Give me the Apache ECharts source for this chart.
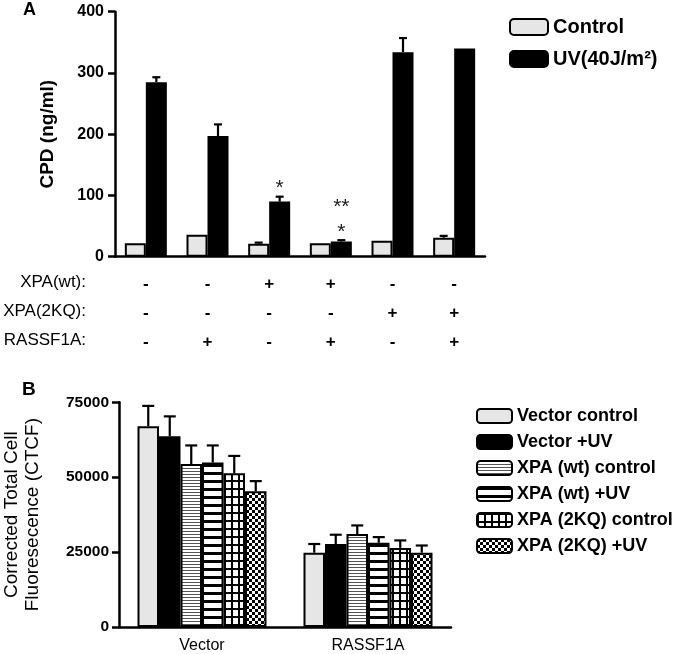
<!DOCTYPE html>
<html>
<head>
<meta charset="utf-8">
<script src="https://cdn.jsdelivr.net/npm/echarts@6/dist/echarts.min.js"></script>
<style>
html,body{margin:0;padding:0;background:#fff;}
#chart{width:680px;height:654px;}
</style>
</head>
<body>
<div id="chart"></div>
<script>
// ---------- Panel A data ----------
const categoriesA = ['g1', 'g2', 'g3', 'g4', 'g5', 'g6'];
const seriesNamesA = ['Control', 'UV(40J/m²)'];
const controlA = [22, 36, 21, 22, 26, 31];
const controlAErr = [0, 0, 2, 0, 0, 3];
const uvA = [285, 197, 90, 25, 334, 340];
const uvAErr = [8, 19, 8, 2, 23, 0];
const rowLabels = ['XPA(wt):', 'XPA(2KQ):', 'RASSF1A:'];
const xpaWt = ['-', '-', '+', '+', '-', '-'];
const xpa2KQ = ['-', '-', '-', '-', '+', '+'];
const rassf1a = ['-', '+', '-', '+', '-', '+'];
const yTicksA = [0, 100, 200, 300, 400];
// significance marks: [category index, text, stack level]
const marksA = [[2, '*', 0], [3, '*', 0], [3, '**', 1]];

// ---------- Panel B data ----------
const categoriesB = ['Vector', 'RASSF1A'];
const seriesNamesB = ['Vector control', 'Vector +UV', 'XPA (wt) control', 'XPA (wt) +UV', 'XPA (2KQ) control', 'XPA (2KQ) +UV'];
const vectorControl = [67000, 24800];
const vectorControlErr = [6800, 2900];
const vectorUV = [63700, 27700];
const vectorUVErr = [6600, 3100];
const wtControl = [54400, 31000];
const wtControlErr = [6200, 2900];
const wtUV = [54900, 28100];
const wtUVErr = [5700, 1900];
const kqControl = [51300, 26400];
const kqControlErr = [5800, 2500];
const kqUV = [45300, 24800];
const kqUVErr = [3400, 2400];
const yTicksB = [0, 25000, 50000, 75000];

// ---------- patterns ----------
function tile(w, h, draw) {
  const c = document.createElement('canvas');
  c.width = w; c.height = h;
  const ctx = c.getContext('2d');
  ctx.fillStyle = '#fff'; ctx.fillRect(0, 0, w, h);
  draw(ctx);
  return { image: c, repeat: 'repeat' };
}
const FONT = 'Liberation Sans, Arial, sans-serif';
const LIGHT = '#e6e6e6';
const fillsB = [
  LIGHT,
  '#000',
  tile(1, 3, ctx => { ctx.fillStyle = '#555'; ctx.fillRect(0, 0, 1, 1); }),
  tile(1, 8, ctx => { ctx.fillStyle = '#000'; ctx.fillRect(0, 0, 1, 3); }),
  tile(7, 8, ctx => { ctx.fillStyle = '#000'; ctx.fillRect(0, 0, 7, 2); ctx.fillRect(0, 0, 2, 8); }),
  tile(6, 6, ctx => { ctx.fillStyle = '#000'; ctx.fillRect(0, 0, 3, 3); ctx.fillRect(3, 3, 3, 3); })
];
const valsB = [vectorControl, vectorUV, wtControl, wtUV, kqControl, kqUV];
const errsB = [vectorControlErr, vectorUVErr, wtControlErr, wtUVErr, kqControlErr, kqUVErr];

const BW_A = 21, BW_B = 21.5;

function errRenderer(nSeries, bw, capHalf) {
  return function (params, api) {
    const cat = api.value(0), s = api.value(1), v = api.value(2), e = api.value(3);
    if (!e) return null;
    const off = (s - (nSeries - 1) / 2) * bw;
    const p0 = api.coord([cat, v]);
    const p1 = api.coord([cat, v + e]);
    const x = p0[0] + off;
    const st = { stroke: '#000', lineWidth: 2.2 };
    return {
      type: 'group',
      children: [
        { type: 'line', shape: { x1: x, y1: p0[1], x2: x, y2: p1[1] }, style: st },
        { type: 'line', shape: { x1: x - capHalf, y1: p1[1], x2: x + capHalf, y2: p1[1] }, style: st }
      ]
    };
  };
}

const errDataA = [];
[controlA, uvA].forEach((vals, s) => {
  const errs = s === 0 ? controlAErr : uvAErr;
  vals.forEach((v, i) => errDataA.push([i, s, v, errs[i]]));
});
const errDataB = [];
valsB.forEach((vals, s) => vals.forEach((v, i) => errDataB.push([i, s, v, errsB[s][i]])));

const markData = marksA.map(m => [m[0], 1, uvA[m[0]] + uvAErr[m[0]], m[2], m[1]]);

const chart = echarts.init(document.getElementById('chart'), null, { renderer: 'canvas' });

const axisLine = { lineStyle: { color: '#000', width: 2.5 } };
const axisTick = { lineStyle: { color: '#000', width: 2.5 }, length: 7 };

const option = {
  backgroundColor: '#fff',
  animation: false,
  textStyle: { fontFamily: FONT, color: '#000' },
  grid: [
    { left: 115, top: 11.7, width: 370, height: 245 },
    { left: 111, top: 402.3, width: 340, height: 228 }
  ],
  legend: [
    {
      data: seriesNamesA, orient: 'vertical', left: 509, top: 17, padding: 0,
      itemWidth: 38, itemHeight: 16, itemGap: 12,
      textStyle: { fontFamily: FONT, fontSize: 20, fontWeight: 'bold', color: '#000' },
      selectedMode: false
    },
    {
      data: seriesNamesB, orient: 'vertical', left: 476, top: 407, padding: 0,
      itemWidth: 35, itemHeight: 14, itemGap: 8,
      textStyle: { fontFamily: FONT, fontSize: 18, fontWeight: 'bold', color: '#000' },
      selectedMode: false
    }
  ],
  xAxis: [
    {
      type: 'category', gridIndex: 0, data: categoriesA,
      axisLine, axisTick: Object.assign({ alignWithLabel: true }, axisTick),
      axisLabel: {
        margin: 13, lineHeight: 29, fontSize: 17, fontWeight: 'bold', color: '#000', fontFamily: FONT,
        formatter: (v, i) => [xpaWt[i], xpa2KQ[i], rassf1a[i]].join('\n')
      }
    },
    {
      type: 'category', gridIndex: 1, data: categoriesB,
      axisLine, axisTick: Object.assign({ alignWithLabel: true }, axisTick),
      axisLabel: { margin: 11, fontSize: 16, color: '#000', fontFamily: FONT }
    }
  ],
  yAxis: [
    {
      type: 'value', gridIndex: 0, min: 0, max: 400, interval: 100,
      axisLine: Object.assign({ show: true }, axisLine), axisTick: Object.assign({ show: true }, axisTick),
      splitLine: { show: false },
      axisLabel: { margin: 11, fontSize: 16, fontWeight: 'bold', color: '#000', fontFamily: FONT,
        formatter: v => String(v) },
      name: 'CPD (ng/ml)', nameLocation: 'middle', nameGap: 58, nameRotate: 90,
      nameTextStyle: { fontSize: 19, fontWeight: 'bold', color: '#000', fontFamily: FONT }
    },
    {
      type: 'value', gridIndex: 1, min: 0, max: 75000, interval: 25000,
      axisLine: Object.assign({ show: true }, axisLine), axisTick: Object.assign({ show: true }, axisTick),
      splitLine: { show: false },
      axisLabel: { margin: 10, fontSize: 15.5, fontWeight: 'bold', color: '#000', fontFamily: FONT,
        formatter: v => String(v) },
      name: 'Corrected Total Cell\nFluoresecence (CTCF)', nameLocation: 'middle', nameGap: 76, nameRotate: 90,
      nameTextStyle: { fontSize: 19, lineHeight: 21, color: '#000', fontFamily: FONT }
    }
  ],
  graphic: [
    { type: 'text', left: 23, top: 1, style: { text: 'A', font: 'bold 18px ' + FONT, fill: '#000' } },
    { type: 'text', left: 22, top: 380, style: { text: 'B', font: 'bold 19px ' + FONT, fill: '#000' } }
  ].concat(rowLabels.map((t, i) => ({
    type: 'text', right: 680 - 86, top: 274 + i * 29,
    style: { text: t, font: '17px ' + FONT, fill: '#000', textAlign: 'right' }
  }))),
  series: [
    {
      name: seriesNamesA[0], type: 'bar', xAxisIndex: 0, yAxisIndex: 0, data: controlA,
      barWidth: BW_A, barGap: '0%',
      itemStyle: { color: LIGHT, borderColor: '#000', borderWidth: 2 }
    },
    {
      name: seriesNamesA[1], type: 'bar', xAxisIndex: 0, yAxisIndex: 0, data: uvA,
      barWidth: BW_A, barGap: '0%',
      itemStyle: { color: '#000', borderColor: '#000', borderWidth: 2 }
    },
    {
      type: 'custom', xAxisIndex: 0, yAxisIndex: 0, data: errDataA, z: 5,
      renderItem: errRenderer(2, BW_A, 4), clip: false, silent: true
    },
    {
      type: 'custom', xAxisIndex: 0, yAxisIndex: 0, data: markData, z: 5, clip: false, silent: true,
      renderItem: function (params, api) {
        const cat = api.value(0), v = api.value(2), lvl = api.value(3);
        const p = api.coord([cat, v]);
        return {
          type: 'text',
          style: {
            text: markData[params.dataIndex][4], x: p[0] + BW_A / 2, y: p[1] - 8 - lvl * 25,
            font: '21px ' + FONT, fill: '#222', textAlign: 'center', textVerticalAlign: 'middle'
          }
        };
      }
    }
  ].concat(seriesNamesB.map((n, s) => ({
    name: n, type: 'bar', xAxisIndex: 1, yAxisIndex: 1, data: valsB[s],
    barWidth: BW_B, barGap: '0%',
    itemStyle: { color: fillsB[s], borderColor: '#000', borderWidth: 2 }
  }))).concat([
    {
      type: 'custom', xAxisIndex: 1, yAxisIndex: 1, data: errDataB, z: 5,
      renderItem: errRenderer(6, BW_B, 6), clip: false, silent: true
    }
  ])
};
chart.setOption(option);
</script>
</body>
</html>
